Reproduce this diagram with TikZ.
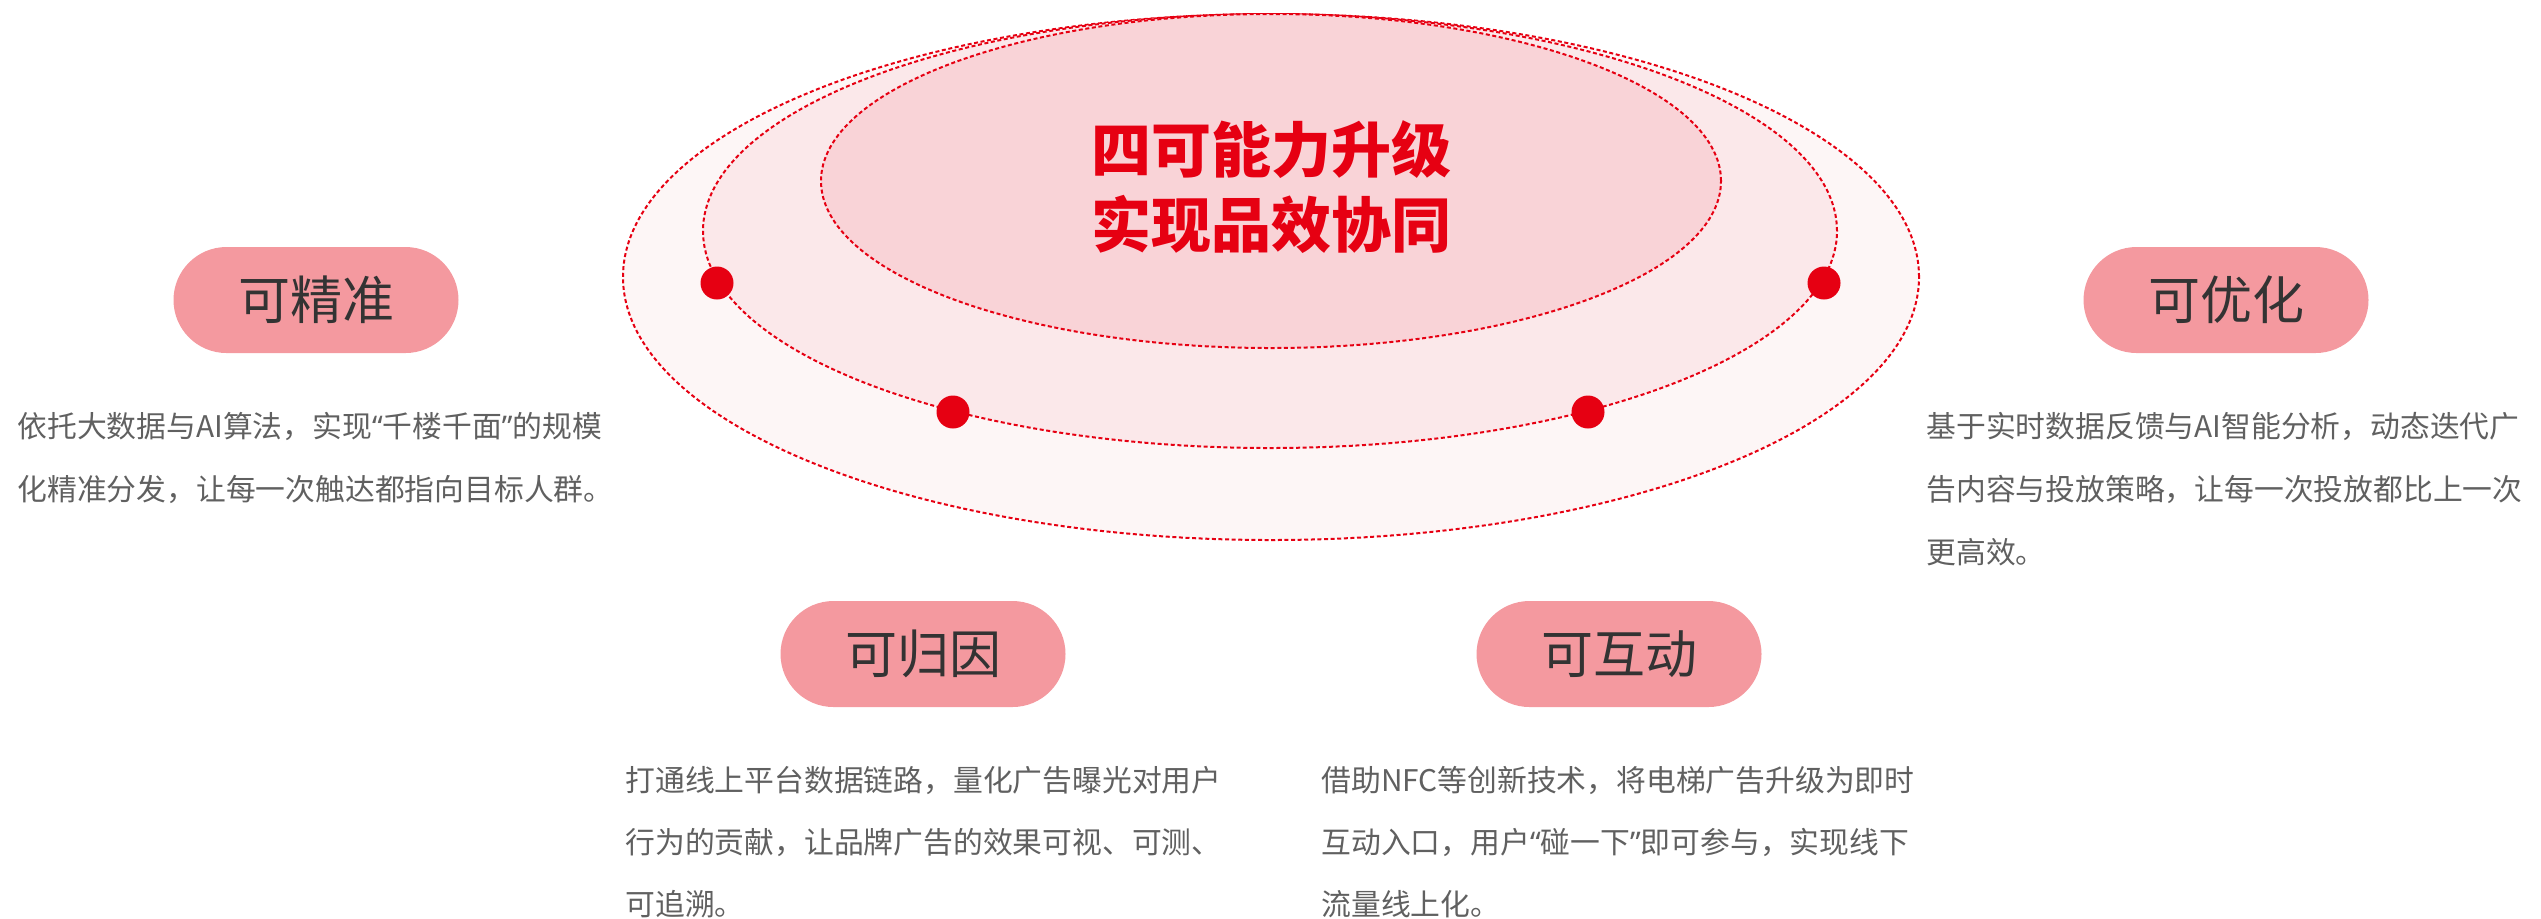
\documentclass[tikz,border=0pt]{standalone}
\usepackage{fontspec}
\newfontfamily\cjk{Noto Sans CJK SC}
\newfontfamily\qfont{Noto Sans}
\newcommand{\myLq}{{\qfont “}}
\newcommand{\myRq}{{\qfont ”}}
\definecolor{cred}{HTML}{E60012}
\definecolor{fout}{HTML}{FDF6F6}
\definecolor{fmid}{HTML}{FBE8EA}
\definecolor{finn}{HTML}{F9D3D7}
\definecolor{pillc}{HTML}{F4999F}
\definecolor{pilltxt}{HTML}{333333}
\definecolor{desc}{HTML}{606060}
\tikzset{
  ring/.style={draw=cred, line width=1pt, dash pattern=on 2pt off 1.3pt},
  dotc/.style={circle, fill=cred, inner sep=0pt, minimum size=16.5pt},
  pill/.style={rectangle, rounded corners=26.5pt, fill=pillc, minimum width=142.5pt, minimum height=53pt, inner sep=0pt,
    font=\cjk\fontsize{26}{30}\selectfont, text=pilltxt},
  title/.style={inner sep=0pt, font=\cjk\bfseries\fontsize{30}{34}\selectfont, text=cred},
  dline/.style={anchor=west, inner sep=0pt, font=\cjk\fontsize{14.9}{18}\selectfont, text=desc},
}
\begin{document}
\begin{tikzpicture}[x=0.5pt, y=-0.5pt]
\useasboundingbox (0,0) rectangle (2541,918);
% ellipses
\draw[ring, fill=fout] (1271,277) ellipse [x radius=324pt, y radius=131.5pt];
\draw[ring, fill=fmid] (1270,231) ellipse [x radius=283.5pt, y radius=108.5pt];
\draw[ring, fill=finn] (1271,181) ellipse [x radius=225pt, y radius=83.5pt];
% dots
\node[dotc] (d1) at (717,283) {};
\node[dotc] (d2) at (1824,283) {};
\node[dotc] (d3) at (953,412) {};
\node[dotc] (d4) at (1588,412) {};
% title
\node[title] (t1) at (1271,150) {四可能力升级};
\node[title] (t2) at (1271,224) {实现品效协同};
% pills
\node[pill] (p1) at (316,300) {可精准};
\node[pill] (p2) at (2226,300) {可优化};
\node[pill] (p3) at (923,654) {可归因};
\node[pill] (p4) at (1619,654) {可互动};
% descriptions
\node[dline] (a1) at (17,426) {依托大数据与AI算法，实现\myLq 千楼千面\myRq 的规模};
\node[dline] (a2) at (17,489) {化精准分发，让每一次触达都指向目标人群。};
\node[dline] (b1) at (1926,426) {基于实时数据反馈与AI智能分析，动态迭代广};
\node[dline] (b2) at (1926,489) {告内容与投放策略，让每一次投放都比上一次};
\node[dline] (b3) at (1926,552) {更高效。};
\node[dline] (c1) at (625,780) {打通线上平台数据链路，量化广告曝光对用户};
\node[dline] (c2) at (625,842) {行为的贡献，让品牌广告的效果可视、可测、};
\node[dline] (c3) at (625,904) {可追溯。};
\node[dline] (e1) at (1321,780) {借助NFC等创新技术，将电梯广告升级为即时};
\node[dline] (e2) at (1321,842) {互动入口，用户\myLq 碰一下\myRq 即可参与，实现线下};
\node[dline] (e3) at (1321,904) {流量线上化。};
\end{tikzpicture}
\end{document}
